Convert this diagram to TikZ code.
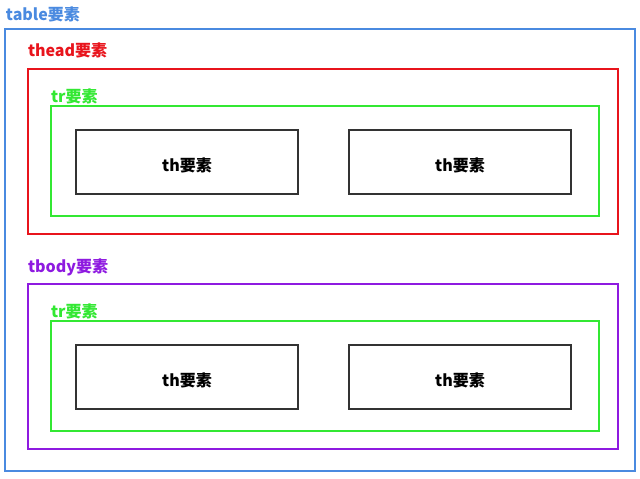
\documentclass[tikz,border=0pt]{standalone}
\usepackage{fontspec}
\setmainfont{Noto Sans CJK SC}
\usepackage{tikz}
\usetikzlibrary{positioning}
\usepackage{xcolor}
\definecolor{tableblue}{HTML}{4A8AE0}
\definecolor{theadred}{HTML}{E8141C}
\definecolor{trgreen}{HTML}{33E833}
\definecolor{tbodypurple}{HTML}{8E1AE0}
\definecolor{thgray}{HTML}{333333}

\begin{document}
\begin{tikzpicture}[
  x=0.75pt, y=-0.75pt,
  every node/.style={inner sep=0pt, outer sep=0pt, font=\fontsize{12}{14}\selectfont\bfseries},
  box/.style={draw, line width=1pt, minimum width=#1},
  tablebox/.style={box=472.5pt, draw=tableblue, minimum height=331.5pt},
  secbox/.style={box=442.5pt, minimum height=123.75pt},
  trbox/.style={box=411pt, draw=trgreen, minimum height=82.5pt},
  thbox/.style={box=166.5pt, draw=thgray, minimum height=48pt, text height=14pt, text depth=0.5pt},
  lbl/.style={anchor=west},
]
  \useasboundingbox (0,0) rectangle (640,479);

  \node[tablebox] (table) at (320,250) {};
  \node[lbl, text=tableblue] (tablelbl) at (6,14) {table要素};

  % thead
  \node[secbox, draw=theadred] (thead) at (323,151.5) {};
  \node[lbl, text=theadred] (theadlbl) at (28,50) {thead要素};
  \node[trbox] (trhead) at (325,161) {};
  \node[lbl, text=trgreen] (trheadlbl) at (51,96) {tr要素};
  \node[thbox] (tha) at (187,162) {th要素};
  \node[thbox] (thb) at (460,162) {th要素};

  % tbody
  \node[secbox, draw=tbodypurple] (tbody) at (323,366.5) {};
  \node[lbl, text=tbodypurple] (tbodylbl) at (28,267) {tbody要素};
  \node[trbox] (trbody) at (325,376) {};
  \node[lbl, text=trgreen] (trbodylbl) at (51,311) {tr要素};
  \node[thbox] (thc) at (187,377) {th要素};
  \node[thbox] (thd) at (460,377) {th要素};
\end{tikzpicture}
\end{document}
